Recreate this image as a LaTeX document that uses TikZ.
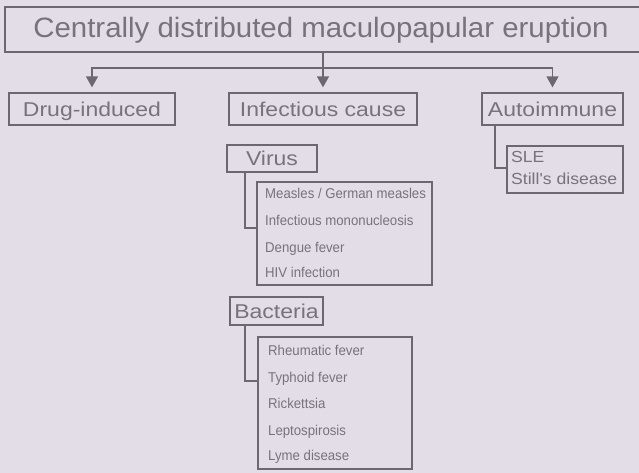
\documentclass[tikz,border=0pt]{standalone}
\usepackage{fontspec}
\setmainfont{Liberation Sans}
\newfontfamily\titlefont[FakeStretch=1.05]{Liberation Sans}
\newfontfamily\lvfont[FakeStretch=1.15]{Liberation Sans}
\newfontfamily\slefont[FakeStretch=1.1]{Liberation Sans}
\newfontfamily\itemfont[FakeStretch=0.93]{Liberation Sans}
\usetikzlibrary{arrows.meta}
\definecolor{bg}{HTML}{E3DDE7}
\definecolor{ln}{HTML}{6C6870}
\definecolor{tx}{HTML}{77727B}
\begin{document}
\begin{tikzpicture}[x=1pt,y=-1pt,
  box/.style={draw=ln, line width=1.3pt, inner sep=0pt},
  lvbox/.style={box, text=tx, font=\lvfont\fontsize{20}{22}\selectfont, text height=14.3pt, text depth=0pt},
  itemtext/.style={text=tx, font=\itemfont\fontsize{14.2}{16}\selectfont, inner sep=0pt, anchor=base west},
  sletext/.style={text=tx, font=\slefont\fontsize{16}{18}\selectfont, inner sep=0pt, anchor=base west},
  conn/.style={draw=ln, line width=1.4pt},
  arr/.style={conn, -{Triangle[width=12pt,length=11pt]}}]
\fill[bg] (0,0) rectangle (639,473);
\useasboundingbox (0,0) rectangle (639,473);
\begin{scope}
\clip (0,0) rectangle (639,473);
\node[box, minimum width=645pt, minimum height=45pt] (titlebox) at (327.5,29.5) {};
\end{scope}
\node[text=tx, inner sep=0pt, anchor=base, font=\titlefont\fontsize{28}{30}\selectfont] (titletext) at (321,38) {Centrally distributed maculopapular eruption};

\node[lvbox, minimum width=166pt, minimum height=32pt] (drug) at (92,109) {Drug-induced};
\node[lvbox, minimum width=188pt, minimum height=32pt] (inf) at (323,109) {Infectious cause};
\node[lvbox, minimum width=141pt, minimum height=32pt] (auto) at (552.5,109) {Autoimmune};

\coordinate (j) at (323,68);
\draw[conn] (titlebox.south -| j) -- (j);
\draw[arr] (j) -| ([yshift=5pt]drug.north);
\draw[arr] (j) -- ([yshift=5pt]inf.north);
\draw[arr] (j) -| ([yshift=5pt]auto.north);

% Virus
\node[lvbox, minimum width=90pt, minimum height=27pt] (virus) at (272,158.5) {Virus};
\node[box, minimum width=175pt, minimum height=103pt] (vlist) at (344.5,233.5) {};
\node[itemtext] (v1) at (265,198) {Measles / German measles};
\node[itemtext] (v2) at (265,225) {Infectious mononucleosis};
\node[itemtext] (v3) at (265,252) {Dengue fever};
\node[itemtext] (v4) at (265,277) {HIV infection};
\coordinate (vbend) at (245,228);
\draw[conn] (virus.south -| vbend) -- (vbend) -- (vlist.west |- vbend);

% Bacteria
\node[lvbox, minimum width=93pt, minimum height=28pt] (bact) at (276.5,311) {Bacteria};
\node[box, minimum width=154pt, minimum height=132pt] (blist) at (335,403) {};
\node[itemtext] (b1) at (268,355) {Rheumatic fever};
\node[itemtext] (b2) at (268,382) {Typhoid fever};
\node[itemtext] (b3) at (268,408) {Rickettsia};
\node[itemtext] (b4) at (268,435) {Leptospirosis};
\node[itemtext] (b5) at (268,460) {Lyme disease};
\coordinate (bbend) at (245,381);
\draw[conn] (bact.south -| bbend) -- (bbend) -- (blist.west |- bbend);

% Autoimmune
\node[box, minimum width=116pt, minimum height=47pt] (sle) at (565,169.5) {};
\node[sletext] (s1) at (511,163) {SLE};
\node[sletext] (s2) at (511,185) {Still's disease};
\coordinate (abend) at (495,168);
\draw[conn] (auto.south -| abend) -- (abend) -- (sle.west |- abend);
\end{tikzpicture}
\end{document}
